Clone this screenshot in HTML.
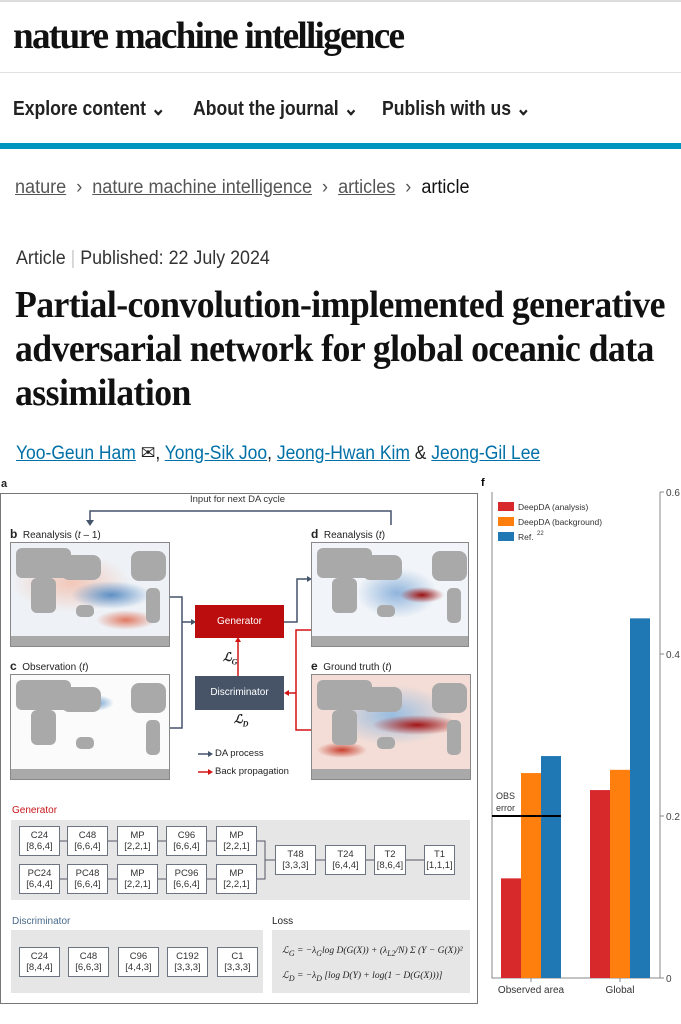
<!DOCTYPE html>
<html><head><meta charset="utf-8">
<style>
*{margin:0;padding:0;box-sizing:border-box}
body{width:681px;height:1024px;overflow:hidden;background:#fff;font-family:"Liberation Sans",sans-serif;position:relative;color:#222}
.abs{position:absolute}
.nx{display:inline-block;transform-origin:0 0;white-space:nowrap}
.map{position:absolute;border:1px solid #888;overflow:hidden;background:#f7f3f2}
.land{position:absolute;background:#a9a9a9}
.box{position:absolute;background:#fff;border:1px solid #6b7480;font-size:9.5px;line-height:11px;text-align:center;padding-top:3px;color:#333}
.t{position:absolute;white-space:nowrap}
</style></head><body>
<div class="abs" style="left:0;top:0;width:681px;height:2px;background:#ddd"></div>
<div class="t" style="left:13px;top:14px;font-family:'Liberation Serif',serif;font-size:38px;letter-spacing:-1.8px;color:#111;font-weight:bold"><span class="nx" style="transform:scaleX(0.98)">nature machine intelligence</span></div>
<div class="abs" style="left:0;top:72px;width:681px;height:1px;background:#e2e2e2"></div>
<div class="t" style="left:13px;top:96px;font-size:20px;font-weight:bold;color:#222"><span class="nx" style="transform:scaleX(0.88)">Explore content ⌄</span></div>
<div class="t" style="left:193px;top:96px;font-size:20px;font-weight:bold;color:#222"><span class="nx" style="transform:scaleX(0.88)">About the journal ⌄</span></div>
<div class="t" style="left:382px;top:96px;font-size:20px;font-weight:bold;color:#222"><span class="nx" style="transform:scaleX(0.88)">Publish with us ⌄</span></div>
<div class="abs" style="left:0;top:143px;width:681px;height:6px;background:#0094c0"></div>
<div class="t" style="left:15px;top:177px;font-size:19px;color:#555"><span class="nx" style="transform:scaleX(0.95)"><u>nature</u> &nbsp;›&nbsp; <u>nature machine intelligence</u> &nbsp;›&nbsp; <u>articles</u> &nbsp;›&nbsp; <span style="color:#111">article</span></span></div>
<div class="t" style="left:16px;top:248px;font-size:19px;color:#333"><span class="nx" style="transform:scaleX(0.94)">Article <span style="color:#ccc">|</span> Published: 22 July 2024</span></div>
<div class="t" style="left:15px;top:283px;font-family:'Liberation Serif',serif;font-weight:bold;font-size:38px;line-height:44px;color:#111;letter-spacing:-0.6px"><span class="nx" style="transform:scaleX(0.94)">Partial-convolution-implemented generative<br>adversarial network for global oceanic data<br>assimilation</span></div>
<div class="t" style="left:16px;top:442px;font-size:19px;color:#222"><span class="nx" style="transform:scaleX(0.92)"><u style="color:#0070a8">Yoo-Geun Ham</u> ✉, <u style="color:#0070a8">Yong-Sik Joo</u>, <u style="color:#0070a8">Jeong-Hwan Kim</u> &amp; <u style="color:#0070a8">Jeong-Gil Lee</u></span></div>

<!-- panel a -->
<div class="t" style="left:1px;top:478px;font-size:11px;font-weight:bold">a</div>
<div class="abs" style="left:0;top:493px;width:478px;height:511px;border:1px solid #777"></div>
<div class="t" style="left:190px;top:494px;font-size:9.5px;color:#333">Input for next DA cycle</div>
<svg class="abs" style="left:0;top:0" width="681" height="1024">
<g fill="none" stroke-width="1.5">
<path d="M391 525V511H90V520" stroke="#44546a"/>
<path d="M170 597H182V728H170M182 622H193" stroke="#44546a"/>
<path d="M284 622H297V579H309" stroke="#44546a"/>
<path d="M311 630H296V730H311M296 693H286" stroke="#d31414"/>
<path d="M238 676V640" stroke="#d31414"/>
<path d="M198 754H210" stroke="#44546a"/><path d="M198 772H210" stroke="#d31414"/>
</g>
<path d="M86 520L94 520L90 526Z" fill="#44546a"/>
<path d="M191 619L196 622L191 625Z" fill="#44546a"/>
<path d="M307 576L312 579L307 582Z" fill="#44546a"/>
<path d="M289 690L284 693L289 696Z" fill="#d31414"/>
<path d="M235 642L238 637L241 642Z" fill="#d31414"/>
<path d="M208 751L213 754L208 757Z" fill="#44546a"/>
<path d="M208 769L213 772L208 775Z" fill="#d31414"/>
</svg>
<div class="t" style="left:10px;top:527px;font-size:10px"><b style="font-size:12px">b</b> &nbsp;Reanalysis (<i>t</i> – 1)</div>
<div class="t" style="left:311px;top:527px;font-size:10px"><b style="font-size:12px">d</b> &nbsp;Reanalysis (<i>t</i>)</div>
<div class="t" style="left:10px;top:659px;font-size:10px"><b style="font-size:12px">c</b> &nbsp;Observation (<i>t</i>)</div>
<div class="t" style="left:311px;top:659px;font-size:10px"><b style="font-size:12px">e</b> &nbsp;Ground truth (<i>t</i>)</div>

<div class="map" style="left:10px;top:542px;width:160px;height:105px;background:radial-gradient(ellipse 40px 14px at 100px 52px,#5d8fc4,transparent),radial-gradient(ellipse 30px 10px at 115px 77px,#e07a62,transparent),radial-gradient(ellipse 60px 30px at 60px 40px,#f2c7b8,transparent),#eef2f7">
<div class="land" style="left:5px;top:5px;width:55px;height:30px;border-radius:6px"></div><div class="land" style="left:20px;top:35px;width:25px;height:35px;border-radius:6px"></div><div class="land" style="left:50px;top:12px;width:40px;height:25px;border-radius:8px"></div><div class="land" style="left:120px;top:8px;width:35px;height:30px;border-radius:8px"></div><div class="land" style="left:135px;top:45px;width:14px;height:35px;border-radius:5px"></div><div class="land" style="left:65px;top:62px;width:18px;height:12px;border-radius:5px"></div><div class="land" style="left:0;top:93px;width:160px;height:12px"></div></div>
<div class="map" style="left:10px;top:674px;width:160px;height:106px;background:radial-gradient(ellipse 18px 8px at 85px 28px,#6c9ccc,transparent),#fbfbfb">
<div class="land" style="left:5px;top:5px;width:55px;height:30px;border-radius:6px"></div><div class="land" style="left:20px;top:35px;width:25px;height:35px;border-radius:6px"></div><div class="land" style="left:50px;top:12px;width:40px;height:25px;border-radius:8px"></div><div class="land" style="left:120px;top:8px;width:35px;height:30px;border-radius:8px"></div><div class="land" style="left:135px;top:45px;width:14px;height:35px;border-radius:5px"></div><div class="land" style="left:65px;top:62px;width:18px;height:12px;border-radius:5px"></div><div class="land" style="left:0;top:94px;width:160px;height:12px"></div></div>
<div class="map" style="left:311px;top:542px;width:158px;height:105px;background:radial-gradient(ellipse 22px 8px at 110px 52px,#9b1010,transparent),radial-gradient(ellipse 40px 25px at 85px 50px,#8fb4dc,transparent),#f1f4f8">
<div class="land" style="left:5px;top:5px;width:55px;height:30px;border-radius:6px"></div><div class="land" style="left:20px;top:35px;width:25px;height:35px;border-radius:6px"></div><div class="land" style="left:50px;top:12px;width:40px;height:25px;border-radius:8px"></div><div class="land" style="left:120px;top:8px;width:35px;height:30px;border-radius:8px"></div><div class="land" style="left:135px;top:45px;width:14px;height:35px;border-radius:5px"></div><div class="land" style="left:65px;top:62px;width:18px;height:12px;border-radius:5px"></div><div class="land" style="left:0;top:93px;width:158px;height:12px"></div></div>
<div class="map" style="left:311px;top:674px;width:160px;height:106px;background:radial-gradient(ellipse 45px 10px at 105px 50px,#a31515,transparent),radial-gradient(ellipse 25px 8px at 30px 75px,#c84030,transparent),radial-gradient(ellipse 60px 30px at 80px 40px,#98bde0,transparent),#f3ddd6">
<div class="land" style="left:5px;top:5px;width:55px;height:30px;border-radius:6px"></div><div class="land" style="left:20px;top:35px;width:25px;height:35px;border-radius:6px"></div><div class="land" style="left:50px;top:12px;width:40px;height:25px;border-radius:8px"></div><div class="land" style="left:120px;top:8px;width:35px;height:30px;border-radius:8px"></div><div class="land" style="left:135px;top:45px;width:14px;height:35px;border-radius:5px"></div><div class="land" style="left:65px;top:62px;width:18px;height:12px;border-radius:5px"></div><div class="land" style="left:0;top:94px;width:160px;height:12px"></div></div>

<div class="abs" style="left:195px;top:605px;width:89px;height:33px;background:#bb0d0d;color:#fff;font-size:10px;text-align:center;line-height:33px">Generator</div>
<div class="abs" style="left:195px;top:676px;width:89px;height:34px;background:#475467;color:#fff;font-size:10px;text-align:center;line-height:34px">Discriminator</div>
<div class="t" style="left:223px;top:650px;font-family:'Liberation Serif',serif;font-style:italic;font-weight:bold;font-size:12px">ℒ<sub style="font-size:8px">G</sub></div>
<div class="t" style="left:234px;top:712px;font-family:'Liberation Serif',serif;font-style:italic;font-weight:bold;font-size:12px">ℒ<sub style="font-size:8px">D</sub></div>
<div class="t" style="left:215px;top:748px;font-size:9.5px">DA process</div>
<div class="t" style="left:215px;top:766px;font-size:9.5px">Back propagation</div>

<div class="t" style="left:12px;top:805px;font-size:10px;color:#c8161b">Generator</div>
<div class="abs" style="left:11px;top:820px;width:459px;height:80px;background:#e6e6e6"></div>
<svg class="abs" style="left:0;top:0" width="681" height="1024"><g stroke="#556" stroke-width="1" fill="none">
<path d="M60 841H67M108 841H117M158 841H166M207 841H216M60 879H67M108 879H117M158 879H166M207 879H216M257 841H265V879H257M265 860H275M316 860H325M366 860H374M406 860H424M60 962H68M109 962H118M159 962H167M208 962H217"/></g></svg>
<div class="box" style="left:19px;top:826px;width:41px;height:30px">C24<br>[8,6,4]</div>
<div class="box" style="left:67px;top:826px;width:41px;height:30px">C48<br>[6,6,4]</div>
<div class="box" style="left:117px;top:826px;width:41px;height:30px">MP<br>[2,2,1]</div>
<div class="box" style="left:166px;top:826px;width:41px;height:30px">C96<br>[6,6,4]</div>
<div class="box" style="left:216px;top:826px;width:41px;height:30px">MP<br>[2,2,1]</div>
<div class="box" style="left:19px;top:864px;width:41px;height:30px">PC24<br>[6,4,4]</div>
<div class="box" style="left:67px;top:864px;width:41px;height:30px">PC48<br>[6,6,4]</div>
<div class="box" style="left:117px;top:864px;width:41px;height:30px">MP<br>[2,2,1]</div>
<div class="box" style="left:166px;top:864px;width:41px;height:30px">PC96<br>[6,6,4]</div>
<div class="box" style="left:216px;top:864px;width:41px;height:30px">MP<br>[2,2,1]</div>
<div class="box" style="left:275px;top:845px;width:41px;height:30px">T48<br>[3,3,3]</div>
<div class="box" style="left:325px;top:845px;width:41px;height:30px">T24<br>[6,4,4]</div>
<div class="box" style="left:374px;top:845px;width:32px;height:30px">T2<br>[8,6,4]</div>
<div class="box" style="left:424px;top:845px;width:31px;height:30px">T1<br>[1,1,1]</div>

<div class="t" style="left:12px;top:916px;font-size:10px;color:#4a6a8a">Discriminator</div>
<div class="abs" style="left:11px;top:930px;width:252px;height:63px;background:#e6e6e6"></div>
<div class="box" style="left:19px;top:947px;width:41px;height:30px">C24<br>[8,4,4]</div>
<div class="box" style="left:68px;top:947px;width:41px;height:30px">C48<br>[6,6,3]</div>
<div class="box" style="left:118px;top:947px;width:41px;height:30px">C96<br>[4,4,3]</div>
<div class="box" style="left:167px;top:947px;width:41px;height:30px">C192<br>[3,3,3]</div>
<div class="box" style="left:217px;top:947px;width:41px;height:30px">C1<br>[3,3,3]</div>
<div class="t" style="left:272px;top:916px;font-size:10px">Loss</div>
<div class="abs" style="left:272px;top:930px;width:198px;height:63px;background:#e6e6e6;font-family:'Liberation Serif',serif;font-size:9.5px;font-style:italic;padding:10px 0 0 10px;line-height:23px;white-space:nowrap;overflow:hidden">
ℒ<sub>G</sub> = −λ<sub>G</sub>log D(G(X)) + (λ<sub>L2</sub>/N) Σ (Y − G(X))²<br>
ℒ<sub>D</sub> = −λ<sub>D</sub> [log D(Y) + log(1 − D(G(X)))]</div>

<!-- panel f chart -->
<svg class="abs" style="left:480px;top:475px" width="201" height="549" id="chart"></svg>
<script>
const categories=["Observed area","Global"];
const seriesNames=["DeepDA (analysis)","DeepDA (background)","Ref. 22"];
const analysisVals=[0.123,0.232];
const backgroundVals=[0.253,0.257];
const refVals=[0.274,0.444];
const yTicks=[0,0.2,0.4,0.6];
const obsError=0.2;
const colors=["#d7282b","#ff7f0e","#1f77b4"];
const svg=document.getElementById('chart');
const NS='http://www.w3.org/2000/svg';
const X0=12,X1=180,Y0=503,Y1=17,YMAX=0.6;
const y=v=>Y0-(v/YMAX)*(Y0-Y1);
const groupX=[21,110],BW=20;
function mk(tag,attrs,txt){const e=document.createElementNS(NS,tag);for(const k in attrs)e.setAttribute(k,attrs[k]);if(txt!=null)e.textContent=txt;svg.appendChild(e);return e;}
let e=mk('text',{x:1,y:11,'font-size':11,'font-weight':'bold','font-family':'Liberation Sans'},'f');


e=mk('path',{d:`M${X0} ${Y1}V${Y0}H${X1}V${Y1}`,fill:'none',stroke:'#888','stroke-width':1});


yTicks.forEach(t=>{
 const tk=mk('line',{x1:X1,x2:X1+4,y1:y(t),y2:y(t),stroke:'#888'});
 
 
 const lb=mk('text',{x:X1+6,y:y(t)+4,'font-size':10,fill:'#444','font-family':'Liberation Sans'},String(t));
 
 
});
const all=[analysisVals,backgroundVals,refVals];
categories.forEach((c,i)=>{
 all.forEach((vals,s)=>{
  const r=mk('rect',{x:groupX[i]+s*BW,y:y(vals[i]),width:BW,height:Y0-y(vals[i]),fill:colors[s]});
  
  
 });
 const tk=mk('line',{x1:groupX[i]+1.5*BW,x2:groupX[i]+1.5*BW,y1:Y0,y2:Y0+4,stroke:'#888'});
 
 
 const lb=mk('text',{x:groupX[i]+1.5*BW,y:Y0+15,'font-size':10,fill:'#333','text-anchor':'middle','font-family':'Liberation Sans'},c);
 
 
});
e=mk('line',{x1:X0,x2:groupX[0]+3*BW,y1:y(obsError),y2:y(obsError),stroke:'#000','stroke-width':2});


e=mk('text',{x:16,y:y(obsError)-17,'font-size':9,fill:'#333','font-family':'Liberation Sans'},'OBS');


e=mk('text',{x:16,y:y(obsError)-5,'font-size':9,fill:'#333','font-family':'Liberation Sans'},'error');


seriesNames.forEach((n,s)=>{
 const yy=27+s*15;
 const sw=mk('rect',{x:18,y:yy,width:16,height:9,fill:colors[s]});
 
 
 const lb=mk('text',{x:38,y:yy+8,'font-size':8.5,fill:'#333','font-family':'Liberation Sans'},n.replace(' 22',''));
 
 
 if(n.endsWith('22')){const sup=mk('text',{x:57,y:yy+3,'font-size':6,fill:'#333','font-family':'Liberation Sans'},'22');
 }
});
</script>
</body></html>
